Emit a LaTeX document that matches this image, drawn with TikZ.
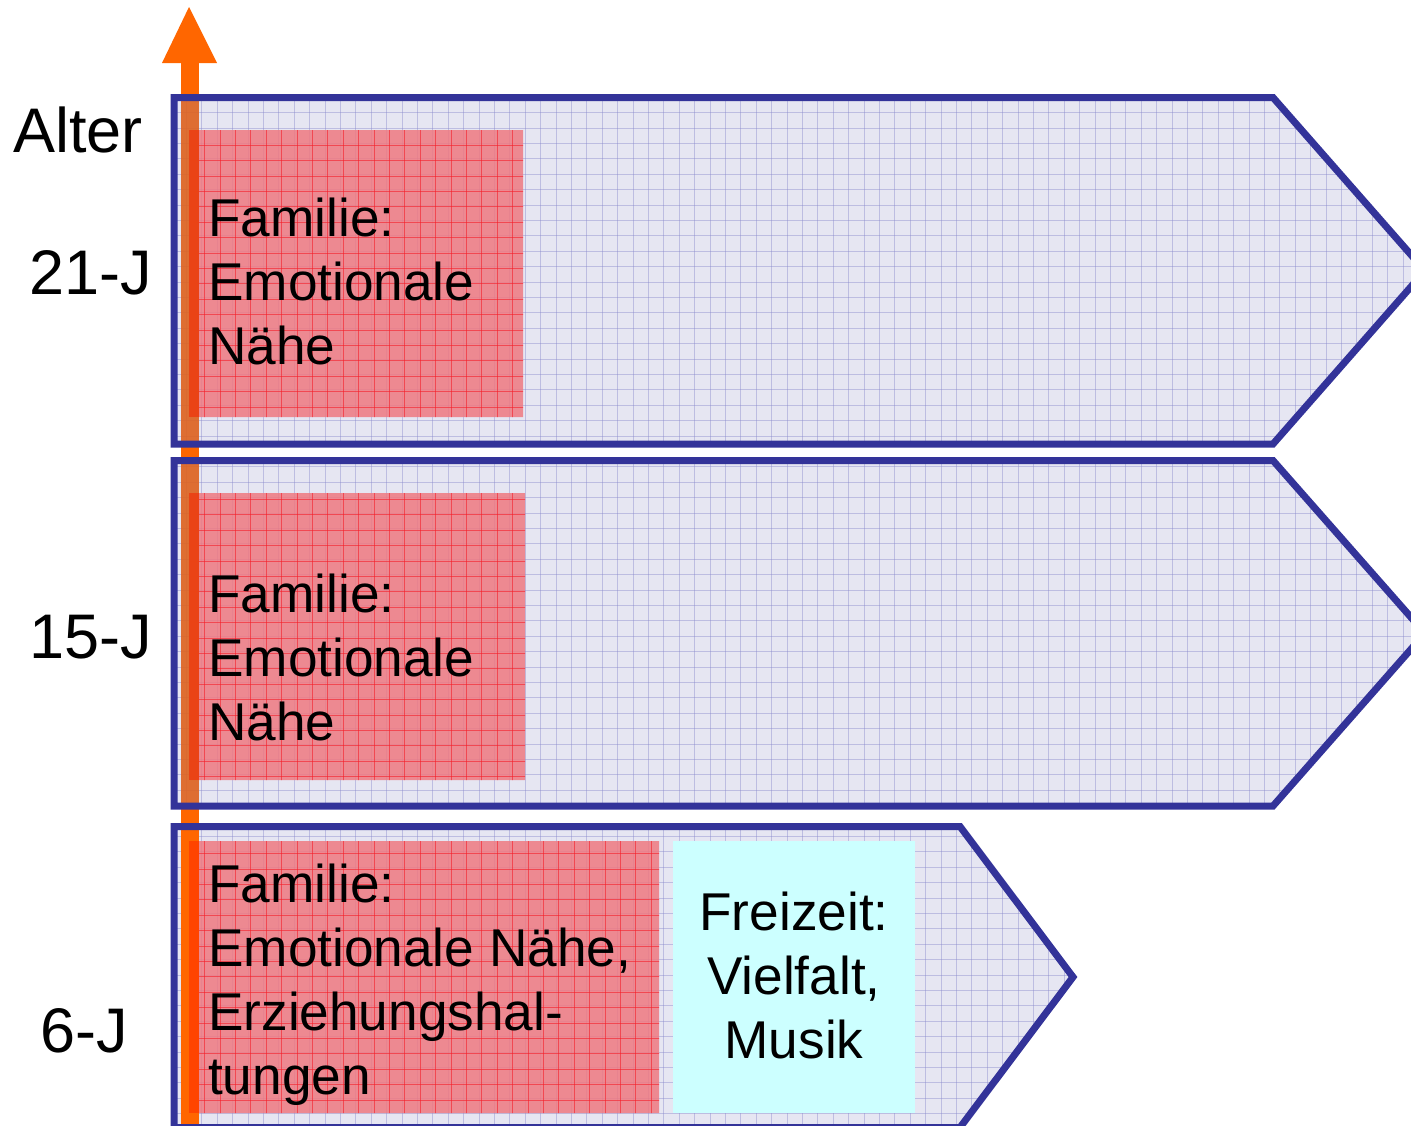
\documentclass[tikz,border=0pt]{standalone}
\usepackage{fontspec}
\setmainfont{Liberation Sans}
\definecolor{panelbg}{RGB}{230,230,242}
\definecolor{gridblue}{RGB}{140,140,205}
\definecolor{redbg}{RGB}{239,121,129}
\definecolor{gridred}{RGB}{245,30,40}
\definecolor{cyanbg}{RGB}{204,255,255}
\definecolor{axisorange}{RGB}{255,102,0}
\definecolor{shaftdark}{RGB}{222,98,30}
\definecolor{shaftred}{RGB}{236,64,20}
\definecolor{shaftredB}{RGB}{255,68,0}
\definecolor{outlineblue}{RGB}{51,51,153}
\tikzset{
  shapeA/.style={insert path={(174,97.5) -- (1273,97.5) -- (1425,270.75) -- (1273,444) -- (174,444) -- cycle}},
  shapeB/.style={insert path={(174,460.5) -- (1273,460.5) -- (1425,633.25) -- (1273,806) -- (174,806) -- cycle}},
  shapeC/.style={insert path={(174,826.5) -- (960,826.5) -- (1073,977) -- (960,1127.5) -- (174,1127.5) -- cycle}},
  outl/.style={draw=outlineblue, line width=7pt, line join=miter},
  bgrid/.style={draw=gridblue, line width=0.9pt, opacity=0.45},
  rgrid/.style={draw=gridred, line width=0.9pt, opacity=0.6},
  boxtxt/.style={inner sep=0pt, align=left, font=\fontsize{53.2}{64}\selectfont},
  agelbl/.style={inner sep=0pt, font=\fontsize{63}{70}\selectfont},
}
\begin{document}
\begin{tikzpicture}[x=1pt,y=-1pt]
\useasboundingbox (0,0) rectangle (1411,1125);
% age axis (shaft + head)
\fill[axisorange] (181,62) rectangle (199,1125);
\fill[axisorange] (162,63) -- (217,63) -- (189,7) -- cycle;
% panels background with grid
\begin{scope}
  \clip[shapeA, shapeB, shapeC];
  \fill[panelbg] (0,0) rectangle (1430,1130);
  \foreach \i in {0,...,92} \draw[bgrid] ({1.7+15.4*\i},0) -- ++(0,1130);
  \foreach \j in {0,...,73} \draw[bgrid] (0,{4.8+15.4*\j}) -- ++(1430,0);
\end{scope}
% red boxes with grid
\begin{scope}
  \clip (190,130) rectangle (523,417) (190,493) rectangle (525,780) (190,841) rectangle (659,1113);
  \fill[redbg, opacity=0.85] (0,0) rectangle (1430,1130);
  \foreach \i in {0,...,45} \draw[rgrid] ({4.4+15.4*\i},0) -- ++(0,1130);
  \foreach \j in {0,...,73} \draw[rgrid] (0,{6.7+15.4*\j}) -- ++(700,0);
\end{scope}
% cyan box
\fill[cyanbg] (673,841) rectangle (915,1113);
% shaft seen through the panels
\fill[shaftdark, opacity=0.9] (181,97.5) rectangle (199,444);
\fill[shaftred, opacity=0.9] (189,130) rectangle (199,417);
\fill[shaftdark, opacity=0.9] (181,460.5) rectangle (199,806);
\fill[shaftred, opacity=0.9] (189,493) rectangle (199,780);
\fill[axisorange] (181,826.5) rectangle (199,1125);
\fill[shaftredB] (189,841) rectangle (199,1113);
% outlines
\draw[outl, shapeA];
\draw[outl, shapeB];
\draw[outl, shapeC];
% labels
\node[agelbl, anchor=base west] (alter) at (13,152) {Alter};
\node[agelbl, anchor=base east] (j21) at (152,294) {21-J};
\node[agelbl, anchor=base east] (j15) at (152,658) {15-J};
\node[agelbl, anchor=base west] (j6) at (40,1052) {6-J};
% box texts (base anchor = baseline of the last line)
\node[boxtxt, anchor=base west] (famA) at (208,364) {Familie:\\Emotionale\\Nähe};
\node[boxtxt, anchor=base west] (famB) at (208,740) {Familie:\\Emotionale\\Nähe};
\node[boxtxt, anchor=base west] (famC) at (208,1094) {Familie:\\Emotionale Nähe,\\Erziehungshal-\\tungen};
\node[boxtxt, align=center, anchor=base] (frei) at (794,1058) {Freizeit:\\Vielfalt,\\Musik};
\end{tikzpicture}
\end{document}
